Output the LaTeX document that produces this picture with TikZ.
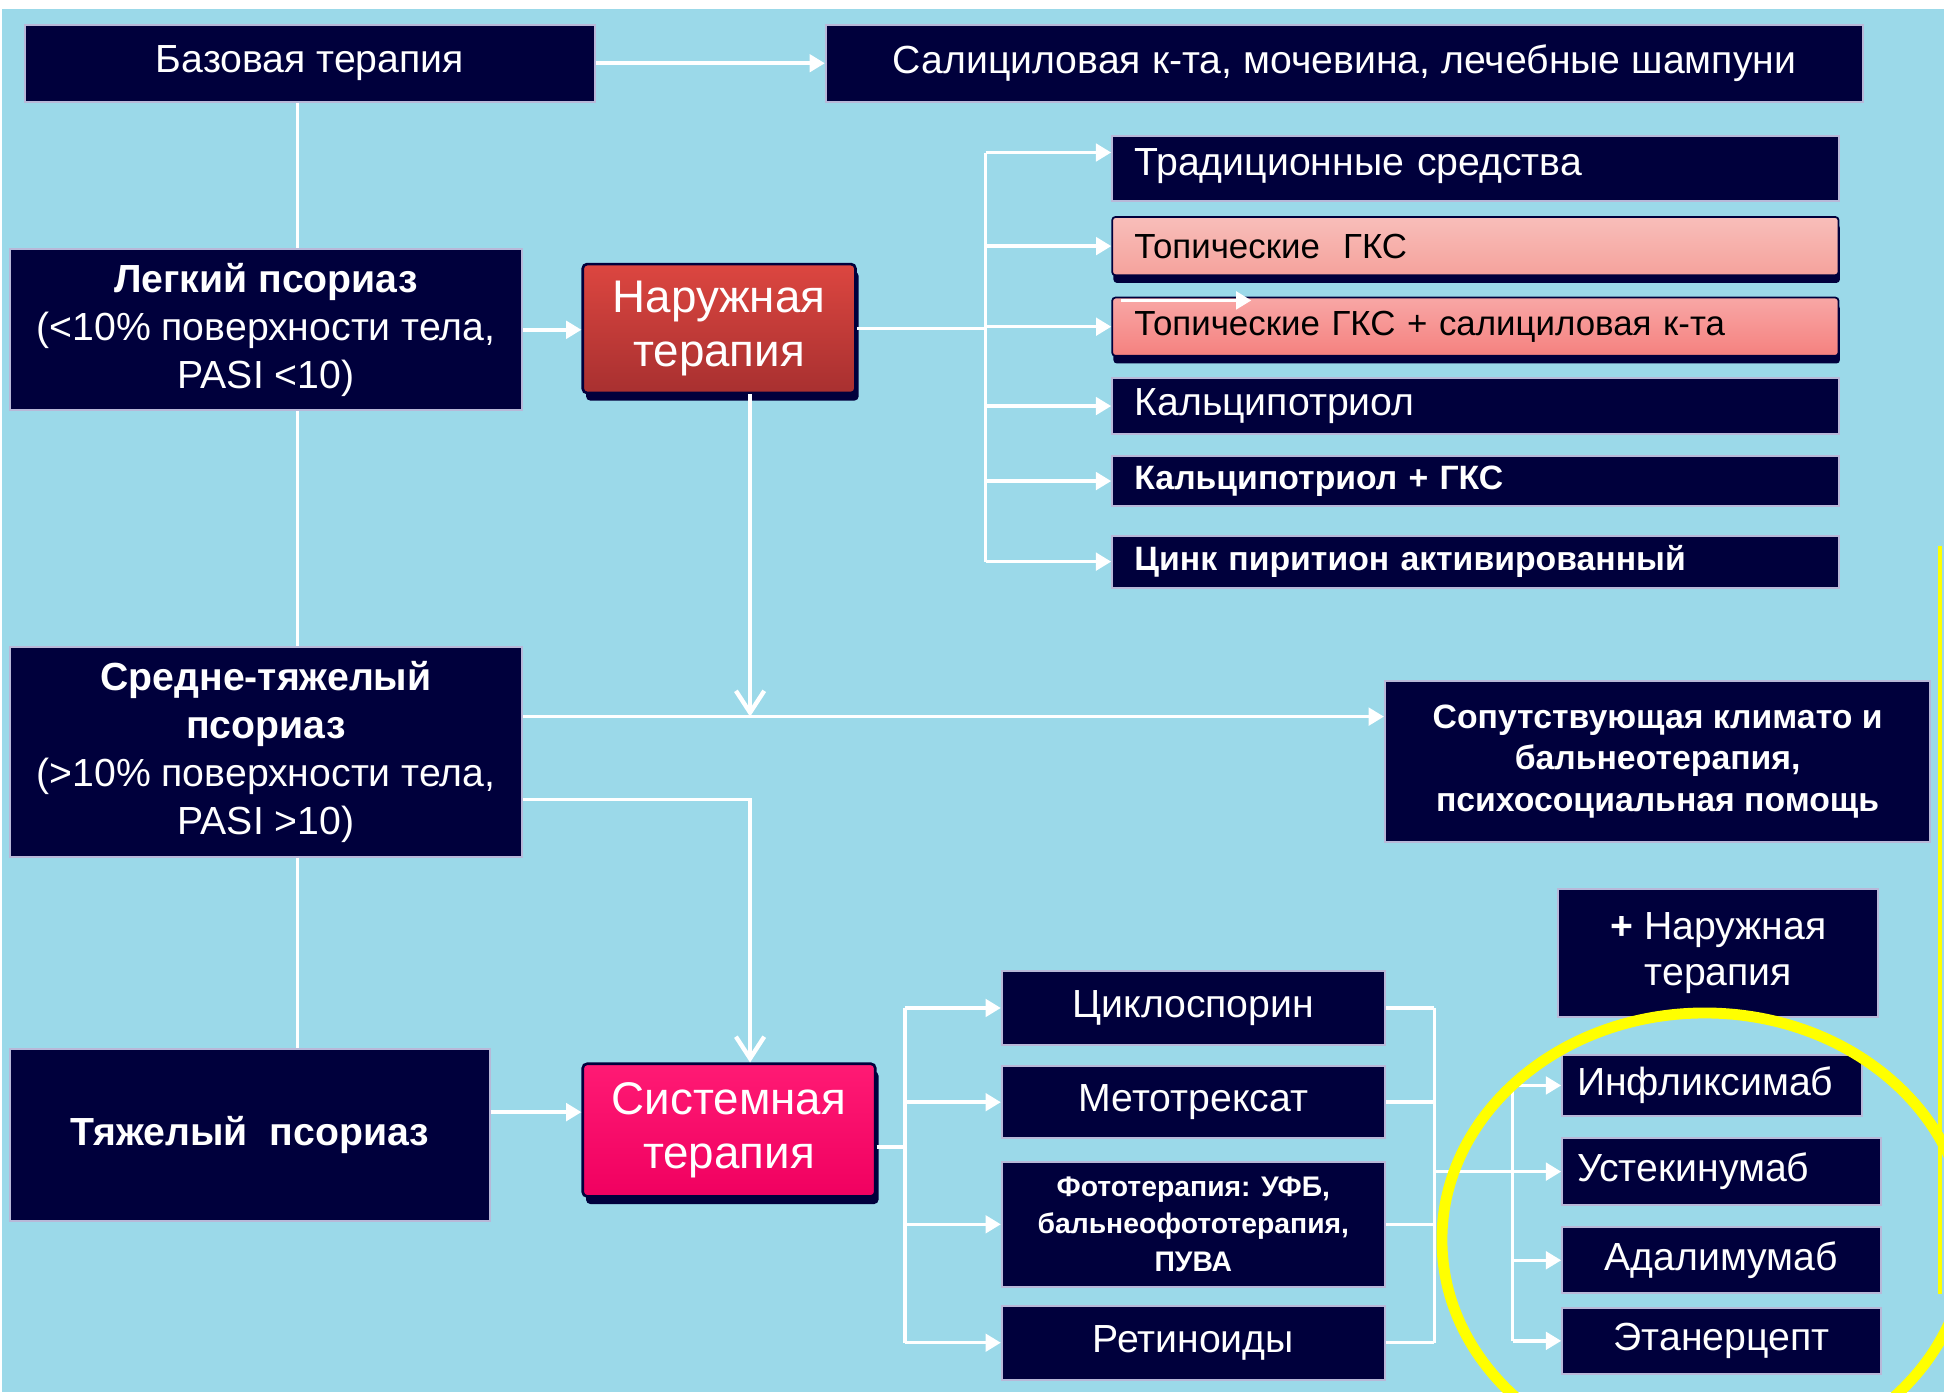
\documentclass[tikz,border=0pt]{standalone}
\usepackage{fontspec}
\setmainfont{Liberation Sans}
\usepackage{tikz}
\usetikzlibrary{arrows.meta,shadows}
\definecolor{slideblue}{HTML}{9BD9E9}
\definecolor{navybox}{HTML}{00003C}
\definecolor{boxedge}{HTML}{B8B8D8}
\definecolor{extred}{HTML}{DC4640}
\definecolor{extreddark}{HTML}{A83030}
\definecolor{sysred}{HTML}{FF1A74}
\definecolor{sysreddark}{HTML}{F00060}
\definecolor{pinka}{HTML}{F5A29C}
\definecolor{pinkb}{HTML}{F5817F}
\definecolor{markyellow}{HTML}{FFFF00}

\begin{document}
\begin{tikzpicture}[x=0.02cm, y=-0.02cm,
  navbox/.style={draw=boxedge, line width=0.9pt, fill=navybox, text=white,
    align=center, inner sep=2pt, font=\fontsize{18}{22}\selectfont},
  listbox/.style={navbox, text width=11cm, align=left, inner xsep=0.36cm},
  pinkbox/.style={draw=navybox, line width=0.8pt, rounded corners=1.5pt, text=black,
    text width=11cm, align=left, inner xsep=0.36cm, inner ysep=2pt,
    font=\fontsize{16}{19}\selectfont,
    drop shadow={fill=navybox, opacity=1, shadow xshift=0.6pt, shadow yshift=-3.5pt}},
  therbox/.style={draw=navybox, line width=1.2pt, rounded corners=2pt, text=white,
    align=center, font=\fontsize{21}{25}\selectfont,
    drop shadow={fill=navybox, opacity=1, shadow xshift=1.5pt, shadow yshift=-3.5pt}},
  drugbox/.style={navbox, minimum width=6.18cm},
  biobox/.style={navbox, minimum width=5.14cm},
  wire/.style={draw=white, line width=1.6pt},
  arr/.style={wire, -{Triangle[length=7pt,width=8pt]}},
  darr/.style={wire, -{Straight Barb[length=10pt,width=13pt,line width=2pt]}}
]
  % background
  \fill[white] (0,0) rectangle (1568,1123);
  \fill[slideblue] (2,7) rectangle (1568,1123);
  \draw[markyellow, line width=2pt] (1565,440) -- (1565,1044);

  \node[navbox, minimum width=9.2cm, minimum height=1.24cm] (base) at (250,51) {Базовая терапия};
  \node[navbox, minimum width=16.74cm, minimum height=1.24cm] (salic) at (1084.5,51)
    {Салициловая к-та, мочевина, лечебные шампуни};

  \node[navbox, minimum width=8.26cm, minimum height=2.6cm] (light) at (214.5,266)
    {\textbf{Легкий псориаз}\\(<10\% поверхности тела,\\PASI <10)};
  \node[therbox, top color=extred, bottom color=extreddark,
    minimum width=4.4cm, minimum height=2.08cm] (ext) at (580,265) {Наружная\\терапия};

  \node[listbox, minimum height=1.04cm, text depth=0.2cm] (trad) at (1190,136) {Традиционные средства};
  \node[pinkbox, top color=pinka!70!white, bottom color=pinka, minimum height=0.94cm]
    (topg) at (1190,198.5) {Топические\ \ ГКС};
  \node[pinkbox, top color=pinkb!70!white, bottom color=pinkb, minimum height=0.94cm]
    (topgs) at (1190,263.5) {Топические ГКС + салициловая к-та};
  \node[listbox, minimum height=0.9cm] (calc) at (1190,327.5) {Кальципотриол};
  \node[listbox, minimum height=0.8cm, font=\bfseries\fontsize{15.5}{19}\selectfont]
    (calcg) at (1190,388) {Кальципотриол + ГКС};
  \node[listbox, minimum height=0.84cm, font=\bfseries\fontsize{15.5}{19}\selectfont]
    (zinc) at (1190,453) {Цинк пиритион активированный};

  \node[navbox, minimum width=8.26cm, minimum height=3.38cm] (mid) at (214.5,606.5)
    {\textbf{Средне-тяжелый}\\\textbf{псориаз}\\(>10\% поверхности тела,\\PASI >10)};
  \node[navbox, minimum width=8.8cm, minimum height=2.6cm,
    font=\bfseries\fontsize{15.5}{19}\selectfont] (accomp) at (1337,614)
    {Сопутствующая климато и\\бальнеотерапия,\\психосоциальная помощь};
  \node[navbox, minimum width=5.16cm, minimum height=2.06cm, font=\fontsize{18}{21}\selectfont]
    (plusext) at (1386,768.5) {\textbf{+} Наружная\\терапия};

  \node[navbox, minimum width=7.74cm, minimum height=2.78cm, font=\bfseries\fontsize{18}{22}\selectfont]
    (severe) at (201.5,915.5) {Тяжелый\ \ псориаз};
  \node[therbox, top color=sysred, bottom color=sysreddark,
    minimum width=4.72cm, minimum height=2.14cm] (sys) at (588,911.5) {Системная\\терапия};

  \node[drugbox, minimum height=1.2cm] (cyclo) at (962.5,813) {Циклоспорин};
  \node[drugbox, minimum height=1.16cm] (metho) at (962.5,889) {Метотрексат};
  \node[drugbox, minimum height=2.02cm, font=\bfseries\fontsize{13}{17}\selectfont]
    (photo) at (962.5,987.5) {Фототерапия: УФБ,\\бальнеофототерапия,\\ПУВА};
  \node[drugbox, minimum height=1.2cm] (retin) at (962.5,1083) {Ретиноиды};

  \node[navbox, minimum width=4.84cm, minimum height=0.98cm, text width=4.36cm, align=left,
    inner xsep=0.24cm] (infl) at (1381,875.5) {Инфликсимаб};
  \node[biobox, minimum height=1.08cm, text width=4.66cm, align=left,
    inner xsep=0.24cm] (uste) at (1388.5,945) {Устекинумаб};
  \node[biobox, minimum height=1.06cm] (adal) at (1388.5,1016.5) {Адалимумаб};
  \node[biobox, minimum height=1.06cm] (etan) at (1388.5,1081.5) {Этанерцепт};

  \coordinate (spine) at (240,0);
  \coordinate (ltrunk) at (795,0);
  \coordinate (dtrunk) at (605,0);
  \coordinate (strunk) at (730,0);
  \coordinate (rtrunk) at (1157,0);
  \coordinate (btrunk) at (1220,0);
  \coordinate (tradin) at ([yshift=0.26cm]trad.west);
  \coordinate (midhi) at ([yshift=0.57cm]mid.east);
  \coordinate (midlo) at ([yshift=-0.77cm]mid.east);
  \coordinate (sevhi) at ([yshift=0.37cm]severe.east);
  \coordinate (sysout) at ([yshift=-0.27cm]sys.east);
  \coordinate (glint) at ([xshift=0.16cm,yshift=-0.06cm]topgs.north west);

  \draw[arr] (base) -- (salic);
  \draw[wire] (base.south -| spine) -- (light.north -| spine);
  \draw[wire] (light.south -| spine) -- (mid.north -| spine);
  \draw[wire] (mid.south -| spine) -- (severe.north -| spine);

  \draw[arr] (light.east) -- (light.east -| ext.west);
  \draw[wire] (ext.east) -- (ext.east -| ltrunk);
  \draw[wire] (tradin -| ltrunk) -- (zinc.west -| ltrunk);
  \draw[arr] (tradin -| ltrunk) -- (tradin);
  \draw[arr] (topg.west -| ltrunk) -- (topg.west);
  \draw[arr] (topgs.west -| ltrunk) -- (topgs.west);
  \draw[arr] (calc.west -| ltrunk) -- (calc.west);
  \draw[arr] (calcg.west -| ltrunk) -- (calcg.west);
  \draw[arr] (zinc.west -| ltrunk) -- (zinc.west);
  \draw[arr] (glint) -- ++(105,0);

  \draw[darr] (ext.south -| dtrunk) -- (midhi -| dtrunk);
  \draw[arr] (midhi) -- (midhi -| accomp.west);
  \draw[darr] (midlo) -| (sys.north -| dtrunk);
  \draw[arr] (sevhi) -- (sevhi -| sys.west);

  \draw[wire] (sysout) -- (sysout -| strunk);
  \draw[wire] (cyclo.west -| strunk) -- (retin.west -| strunk);
  \draw[arr] (cyclo.west -| strunk) -- (cyclo.west);
  \draw[arr] (metho.west -| strunk) -- (metho.west);
  \draw[arr] (photo.west -| strunk) -- (photo.west);
  \draw[arr] (retin.west -| strunk) -- (retin.west);

  \draw[wire] (cyclo.east) -- (cyclo.east -| rtrunk);
  \draw[wire] (metho.east) -- (metho.east -| rtrunk);
  \draw[wire] (photo.east) -- (photo.east -| rtrunk);
  \draw[wire] (retin.east) -- (retin.east -| rtrunk);
  \draw[wire] (cyclo.east -| rtrunk) -- (retin.east -| rtrunk);
  \draw[arr] (uste.west -| rtrunk) -- (uste.west);
  \draw[wire] (infl.west -| btrunk) -- (etan.west -| btrunk);
  \draw[arr] (infl.west -| btrunk) -- (infl.west);
  \draw[arr] (adal.west -| btrunk) -- (adal.west);
  \draw[arr] (etan.west -| btrunk) -- (etan.west);

  % highlight of the biologics
  \begin{scope}
    \clip (0,0) rectangle (1568,1123);
    \draw[markyellow, line width=5pt] (1375,1000) ellipse [x radius=4.24cm, y radius=3.66cm];
  \end{scope}
\end{tikzpicture}
\end{document}
